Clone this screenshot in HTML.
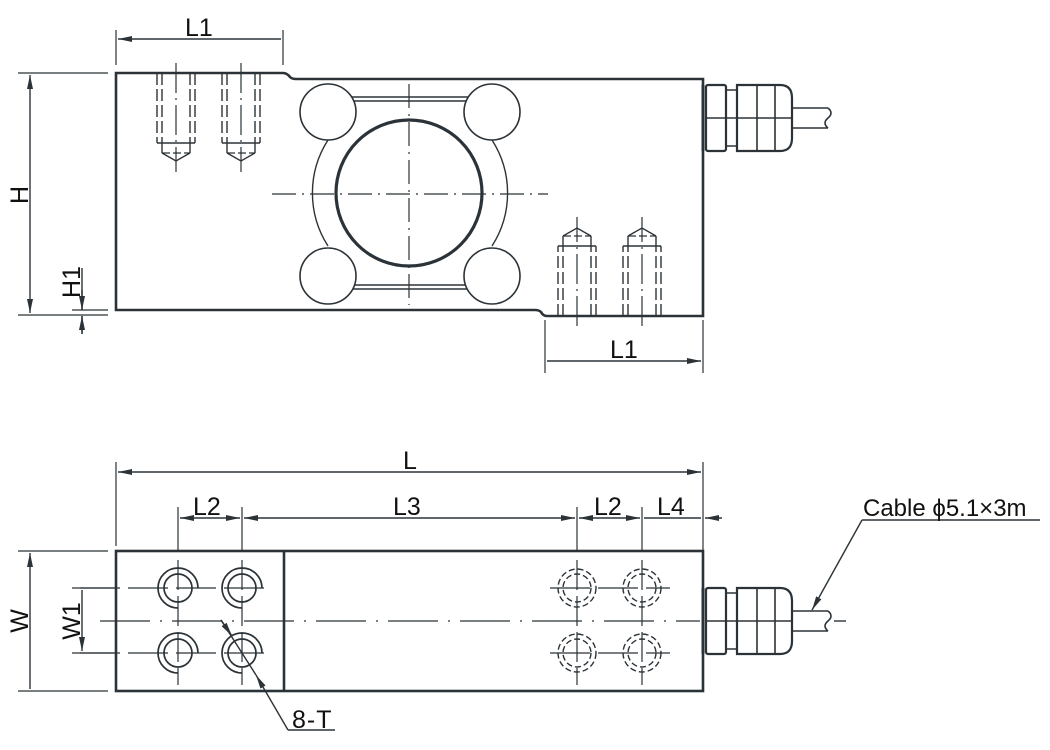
<!DOCTYPE html>
<html><head><meta charset="utf-8"><style>html,body{margin:0;padding:0;background:#fff}svg{display:block}</style></head>
<body>
<svg width="1050" height="750" viewBox="0 0 1050 750" xmlns="http://www.w3.org/2000/svg" font-family="Liberation Sans, sans-serif" fill="none" stroke="#2b3338">
<defs>
<marker id="a" viewBox="0 0 14 6" refX="14" refY="3" markerWidth="14" markerHeight="6" orient="auto-start-reverse" markerUnits="userSpaceOnUse"><path d="M0,0L14,3L0,6z" fill="#2b3338" stroke="none"/></marker>
<g id="holeT">
<path d="M-19,0V70M19,0V70M-14,0V70M14,0V70" stroke-dasharray="12,4" stroke-width="1.4"/>
<path d="M-19,70H19" stroke-width="1.4"/>
<path d="M-14,70V80M14,70V80" stroke-width="1.4"/>
<path d="M-14,80H14" stroke-dasharray="8,3" stroke-width="1.2"/>
<path d="M-14,80L0,88L14,80" stroke-width="1.4"/>
<path d="M0,-10V99" stroke-dasharray="30,5,2,5" stroke-width="1.2"/>
</g>
<g id="conn">
<rect x="706" y="-33" width="20" height="66" rx="2" stroke-width="2.2"/>
<path d="M726,-28H737M726,28H737" stroke-width="1.6"/>
<path d="M737,-33H780Q792,-33 792,-20V20Q792,33 780,33H737Z" stroke-width="2.2"/>
<path d="M757,-33V33M775,-33V33M706,0H792" stroke-width="1.6"/>
<path d="M792,-10H828M792,10H828" stroke-width="1.6"/>
<path d="M828,-10Q834,-5 828,0Q822,5 828,10" stroke-width="1.6"/>
<path d="M703,-33V33" stroke-width="3"/>
</g>
<g id="holeS"><circle r="14" stroke-width="1.7"/><path d="M0,20A20,20 0 1 1 20,0" stroke-width="1.7"/></g>
<g id="holeD" stroke-dasharray="6,3" stroke-width="1.4"><circle r="14"/><circle r="19"/></g>
</defs>

<!-- TOP VIEW -->
<path d="M116,73H283Q287,73 290,77Q292,79 296,79H703V316H547Q543,316 541,312Q539,310 535,310H116Z" stroke-width="2.6"/>
<use href="#holeT" transform="translate(176,73)"/>
<use href="#holeT" transform="translate(241,73)"/>
<use href="#holeT" transform="translate(577,316) scale(1,-1)"/>
<use href="#holeT" transform="translate(642,316) scale(1,-1)"/>
<circle cx="409" cy="193" r="73" stroke-width="3.2"/>
<path d="M350,97H470M354,101H466M350,289H470M354,285H466" stroke-width="1.6"/>
<path d="M328,140A98,98 0 0 0 328,246M492,140A98,98 0 0 1 492,246" stroke-width="1.4"/>
<g fill="#fff" stroke-width="1.6"><circle cx="328" cy="112" r="28"/><circle cx="492" cy="112" r="28"/><circle cx="328" cy="276" r="28"/><circle cx="492" cy="276" r="28"/></g>
<path d="M272,194H548M409,84V305" stroke-dasharray="24,6,2,6" stroke-width="1.2"/>
<use href="#conn" transform="translate(0,118)"/>

<!-- top dims -->
<path d="M116,30V65M283,30V65M545,320V373M703,320V373" stroke-width="1.2"/>
<path d="M118,39H281M547,361H701" stroke-width="1.4" marker-start="url(#a)" marker-end="url(#a)"/>
<path d="M18,73H108M18,315H108" stroke-width="1.2"/>
<path d="M30,75V313" stroke-width="1.4" marker-start="url(#a)" marker-end="url(#a)"/>
<path d="M82,268V310M82,316V334" stroke-width="1.4"/>
<path d="M82,290V310" stroke-width="1.4" marker-end="url(#a)"/><path d="M82,334V316" stroke-width="1.4" marker-end="url(#a)"/>
<path d="M72,310H108" stroke-width="1.2"/>
<g fill="#111" stroke="none" font-size="25">
<text x="185" y="36">L1</text><text x="610" y="358">L1</text>
<text transform="translate(28,195) rotate(-90)" text-anchor="middle">H</text>
<text transform="translate(80,282) rotate(-90)" text-anchor="middle">H1</text>
</g>

<!-- BOTTOM VIEW -->
<rect x="116" y="551" width="587" height="140" stroke-width="2.6"/>
<path d="M284,551V691" stroke-width="2.6"/>
<path d="M100,621H700" stroke-dasharray="50,10,2,10" stroke-width="1.2"/>
<path d="M80,588H270M80,653H270M550,588H670M550,653H670" stroke-dasharray="40,8" stroke-width="1.2"/>
<path d="M178,560V685M242,560V685M577,560V685M642,560V685" stroke-dasharray="30,6" stroke-width="1.2"/>
<use href="#holeS" transform="translate(178,588)"/><use href="#holeS" transform="translate(242,588)"/>
<use href="#holeS" transform="translate(178,653)"/><use href="#holeS" transform="translate(242,653)"/>
<use href="#holeD" transform="translate(577,588)"/><use href="#holeD" transform="translate(642,588)"/>
<use href="#holeD" transform="translate(577,653)"/><use href="#holeD" transform="translate(642,653)"/>
<use href="#conn" transform="translate(0,621)"/>
<path d="M834,621H846" stroke-width="1.4"/>

<!-- bottom dims -->
<path d="M116,462V546M703,462V546M178,507V551M242,507V551M577,507V551M642,507V551M703,507V551" stroke-width="1.2"/>
<path d="M118,472H701" stroke-width="1.4" marker-start="url(#a)" marker-end="url(#a)"/>
<path d="M180,518H240M244,518H575M579,518H640M644,518H701" stroke-width="1.4"/>
<path d="M196,518H180" marker-end="url(#a)" stroke-width="1"/><path d="M224,518H240" marker-end="url(#a)" stroke-width="1"/>
<path d="M260,518H244" marker-end="url(#a)" stroke-width="1"/><path d="M559,518H575" marker-end="url(#a)" stroke-width="1"/>
<path d="M595,518H579" marker-end="url(#a)" stroke-width="1"/><path d="M624,518H640" marker-end="url(#a)" stroke-width="1"/>
<path d="M722,518H705" marker-end="url(#a)" stroke-width="1.4"/>
<path d="M18,551H108M18,691H108" stroke-width="1.2"/>
<path d="M30,553V689M82,590V651" stroke-width="1.4" marker-start="url(#a)" marker-end="url(#a)"/>
<path d="M72,588H116M72,653H116" stroke-width="1.2"/>
<!-- 8-T leader -->
<path d="M288,730H335" stroke-width="1.4"/>
<path d="M288,730L256,675" stroke-width="1.4" marker-end="url(#a)"/>
<path d="M256,675L221,620" stroke-width="1.4"/>
<path d="M221,620L232,636" stroke-width="1.4" marker-end="url(#a)"/>
<!-- cable leader -->
<path d="M862,520H1040" stroke-width="1.4"/>
<path d="M862,520L812,610" stroke-width="1.4" marker-end="url(#a)"/>
<g fill="#111" stroke="none" font-size="25">
<text x="403" y="469">L</text>
<text x="193" y="515">L2</text><text x="393" y="515">L3</text>
<text x="594" y="515">L2</text><text x="657" y="515">L4</text>
<text transform="translate(28,621) rotate(-90)" text-anchor="middle">W</text>
<text transform="translate(80,621) rotate(-90)" text-anchor="middle">W1</text>
<text x="292" y="728" letter-spacing="1">8-T</text>
<text x="863" y="516" font-size="24">Cable ϕ5.1×3m</text>
</g>
</svg>
</body></html>
